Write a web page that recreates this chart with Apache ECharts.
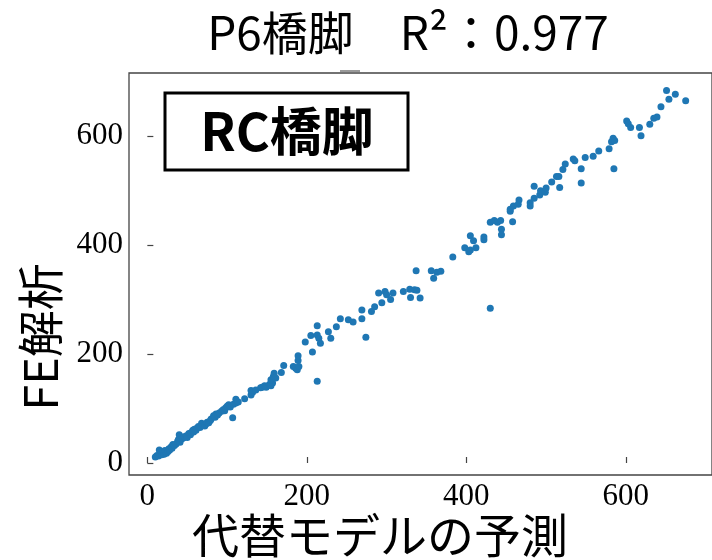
<!DOCTYPE html>
<html>
<head>
<meta charset="utf-8">
<script src="https://cdn.jsdelivr.net/npm/echarts@6/dist/echarts.min.js"></script>
<style>
html,body{margin:0;padding:0;background:#fff;}
#chart{width:712px;height:560px;}
</style>
</head>
<body>
<div id="chart"></div>
<script>
const titleText = 'P6橋脚　R²：0.977';
const boxLabel = 'RC橋脚';
const xAxisName = '代替モデルの予測';
const yAxisName = 'FE解析';
const tickValues = [0, 200, 400, 600];

const predicted = [
  10,12,14,16,15,18,19,21,22,24,26,27,28,30,31,32,34,36,38,39,40,41,43,45,46,49,50,52,54,55,57,58,59,61,62,64,66,68,70,72,74,75,77,79,80,83,85,86,88,90,93,95,97,98,100,102,104,107,108,111,111,114,
  122,130,130,132,136,142,144,147,149,153,155,157,155,158,159,161,168,171,183,186,188,190,189,189,198,205,207,213,213,215,213,217,227,230,237,242,252,258,269,274,269,281,285,290,294,298,300,305,308,321,329,330,335,338,337,342,356,359,363,368,383,398,403,405,412,405,409,422,422,430,430,435,439,443,444,444,455,458,459,455,465,466,480,480,485,485,492,493,499,500,507,513,516,517,521,524,534,536,544,544,549,559,566,579,582,584,586,585,601,603,606,617,619,630,635,639,644,651,654,662,675
];
const feAnalysis = [
  11,14,13,17,24,15,21,16,23,18,21,26,24,30,27,34,32,35,40,43,52,38,44,46,48,50,47,54,52,56,60,57,62,60,64,67,65,73,70,68,72,75,74,78,81,87,84,90,88,92,95,98,96,101,104,107,103,83,108,110,117,112,
  118,125,133,130,134,138,139,142,139,144,142,147,153,159,165,156,166,179,177,174,171,177,188,197,222,234,204,252,235,229,150,220,241,229,250,265,263,259,265,231,281,278,287,312,294,315,309,300,312,315,319,304,318,317,353,303,353,339,350,352,378,395,388,391,395,417,408,415,410,284,442,445,442,445,429,419,462,443,472,466,475,483,478,472,486,508,492,500,497,505,516,526,526,506,539,549,558,555,540,514,561,563,573,577,590,596,592,540,628,623,616,616,601,622,633,635,654,684,668,677,665
];

const points = predicted.map((v, i) => [v, feAnalysis[i]]);

const chart = echarts.init(document.getElementById('chart'), null, {renderer: 'canvas'});
const tickFont = {fontFamily: '"Liberation Serif", "DejaVu Serif", serif', fontSize: 31, color: '#000'};
chart.setOption({
  animation: false,
  backgroundColor: '#fff',
  grid: {
    left: 129, top: 73, width: 587, height: 402,
    show: true, borderColor: '#444', borderWidth: 1.3, backgroundColor: 'transparent'
  },
  xAxis: {
    type: 'value', min: -23, max: 708,
    axisLine: {show: false},
    splitLine: {show: false},
    axisTick: {show: true, inside: true, length: 6, lineStyle: {color: '#444', width: 1.2}, customValues: tickValues},
    axisLabel: Object.assign({margin: 6, customValues: tickValues}, tickFont)
  },
  yAxis: {
    type: 'value', min: -22, max: 716,
    axisLine: {show: false},
    splitLine: {show: false},
    axisTick: {show: true, inside: true, length: 6, lineStyle: {color: '#444', width: 1.2}, customValues: tickValues},
    axisLabel: Object.assign({margin: 6, customValues: tickValues}, tickFont)
  },
  series: [{
    type: 'scatter',
    data: points,
    symbol: 'circle',
    symbolSize: 7,
    itemStyle: {color: '#1f77b4', opacity: 1}
  }],
  graphic: [
    {type: 'text', x: 408, y: 33, style: {text: titleText, font: '46px "Noto Sans CJK JP", "Noto Sans", sans-serif', fill: '#000', textAlign: 'center', textVerticalAlign: 'middle'}},
    {type: 'line', shape: {x1: 340, y1: 71, x2: 360, y2: 71}, style: {stroke: '#999', lineWidth: 2}},
    {type: 'rect', shape: {x: 165, y: 93, width: 243, height: 77}, style: {fill: '#fff', stroke: '#000', lineWidth: 3}, z: 10},
    {type: 'text', x: 287, y: 131, z: 11, style: {text: boxLabel, font: 'bold 52px "Noto Sans CJK JP", "Noto Sans", sans-serif', fill: '#000', textAlign: 'center', textVerticalAlign: 'middle'}},
    {type: 'text', x: 40, y: 337, rotation: Math.PI / 2, style: {text: yAxisName, font: '47px "Noto Sans CJK JP", "Noto Sans", sans-serif', fill: '#000', textAlign: 'center', textVerticalAlign: 'middle'}},
    {type: 'text', x: 380, y: 535, style: {text: xAxisName, font: '47px "Noto Sans CJK JP", "Noto Sans", sans-serif', fill: '#000', textAlign: 'center', textVerticalAlign: 'middle'}}
  ]
});
</script>
</body>
</html>
